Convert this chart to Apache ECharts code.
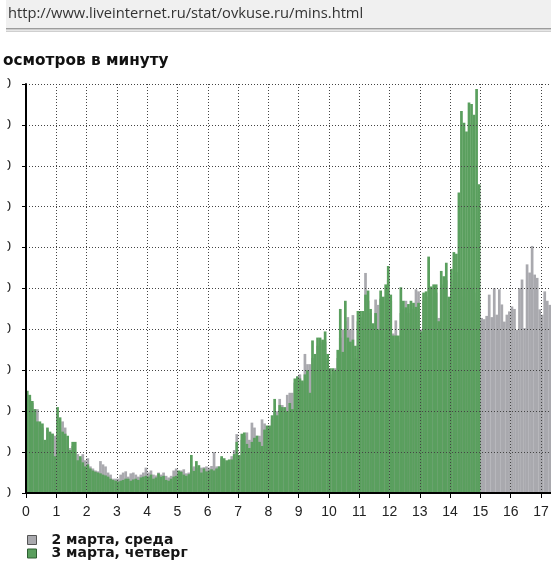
<!DOCTYPE html>
<html>
<head>
<meta charset="utf-8">
<script src="https://cdn.jsdelivr.net/npm/echarts@6/dist/echarts.min.js"></script>
<style>
  html, body { margin: 0; padding: 0; background: #fff; }
  #chart { width: 551px; height: 565px; }
</style>
</head>
<body>
<div id="chart"></div>
<script>
// Page views per minute, averaged over 5-minute slots (12 slots per hour).
const slotsPerHour = 12;
const hourTicks = [0, 1, 2, 3, 4, 5, 6, 7, 8, 9, 10, 11, 12, 13, 14, 15, 16, 17, 18, 19, 20, 21, 22, 23, 24];
const seriesNames = ['2 марта, среда', '3 марта, четверг'];

// 2 марта (shown up to ~17:20)
const march2 = [
  24, 23, 22, 20.5, 20.5, 16, 16, 12, 15.5, 14.5, 14.5, 14,
  14, 16, 17.5, 16, 13, 11, 11.5, 10, 9.5, 8.5, 9.5, 8,
  8.5, 6.5, 6, 5.5, 5.3, 7.8, 7, 6.5, 5, 4.5, 3.5, 3.5,
  3.5, 4.5, 5, 5.3, 4, 4.8, 5, 4.5, 4, 4.5, 5, 6.2,
  5, 5.5, 4.5, 4.3, 5, 4.5, 5, 4.2, 3.8, 4.2, 5.5, 6,
  5, 5.5, 5.8, 4.8, 5, 6, 6.5, 6.2, 6, 6.2, 6.3, 6.5,
  6.2, 6.6, 10, 6.5, 6.5, 8.5, 8, 7.5, 8, 9, 10.5, 14.4,
  9, 13, 14, 14.8, 13, 17.2, 16, 14, 14, 18, 17, 16,
  16, 18, 20, 20, 23, 21.5, 20, 24, 24.5, 24.5, 27, 28.5,
  29, 27, 34, 31.5, 31.5, 33, 30, 36, 36.5, 37, 37, 33,
  29, 28, 30.5, 33, 38, 40, 42, 43, 40, 43.5, 33, 42,
  43, 43, 53.8, 47, 44, 40, 47.3, 46, 47.5, 38, 48, 52,
  47, 39, 42.2, 37, 44, 45, 47, 44, 45, 45, 49.8, 49.3,
  40, 47, 47, 48, 48, 50, 49, 42.8, 50, 51, 52, 47,
  50, 52, 54, 52, 50, 48, 50, 52, 50, 49, 47, 46,
  42.8, 42.5, 43.3, 48.5, 43, 50.1, 43.6, 49.8, 46.1, 41.9, 43.6, 44.4,
  45.6, 45, 39.9, 50.1, 52.2, 40.3, 55.9, 53.9, 60.4, 53.4, 52.6, 44.9,
  43.6, 49.3, 47, 46
];

// 3 марта (until ~15:00)
const march3 = [
  25, 24, 22.5, 20.5, 17.5, 17.5, 17, 13, 16, 15, 14.5, 9,
  21, 18.5, 15, 14.5, 14, 10.5, 12.5, 12.5, 8, 9, 7.5, 6.5,
  7, 6, 5.5, 5.2, 5, 4.8, 4.5, 4.3, 4, 3.5, 3.2, 3,
  2.8, 3, 3.2, 3.5, 3.5, 3, 3.3, 3.5, 3.2, 3.8, 4, 4.2,
  4, 4.5, 3.5, 3.8, 4.8, 4, 4.2, 3.2, 3, 3.5, 4, 4.2,
  5.5, 5.2, 4.5, 4.2, 4.6, 9.3, 5.4, 7.8, 6.8, 5, 6, 5.3,
  5.5, 5.8, 5.5, 6, 6.5, 9, 8.5, 8, 8.2, 8.2, 9.5, 12.5,
  9.3, 14.5, 14.8, 12, 11, 12.5, 13.5, 14, 12.5, 11.5, 15.5, 16.5,
  16.5, 19, 23, 19, 21.5, 21, 21, 20, 22, 20.5, 28, 28.5,
  28, 27.5, 29, 30, 24.5, 37.3, 34, 38, 38, 37.5, 39.5, 34,
  30.5, 30.5, 30, 35, 45, 34.5, 47, 38, 37, 37.5, 36, 44.5,
  44.5, 44.5, 48.5, 49.5, 45, 41.5, 44, 40, 49.5, 48, 51, 55.5,
  48.5, 38.5, 38.5, 38.5, 50.3, 47, 45.4, 46.2, 47, 46.5, 45.5, 46.5,
  39.5, 49, 49.3, 57.8, 50.5, 51, 51, 42, 54.3, 53, 56.3, 48,
  54.8, 58.9, 58.5, 73.5, 93.4, 90.5, 88.4, 95.5, 95.1, 92.5, 98.8, 75.5
];

// Place each slot at the middle of its 5-minute interval on the hour axis.
function toPoints(values) {
  return values.map((v, i) => [(i + 0.5) / slotsPerHour, v]);
}

const GREEN = '#5a9f5e';
const GRAY = '#a9a9ae';
const DOTS = { color: '#444', width: 1, type: [1, 2] };

const chart = echarts.init(document.getElementById('chart'), null, { renderer: 'canvas' });

chart.setOption({
  animation: false,
  backgroundColor: '#fff',
  title: {
    text: 'осмотров в минуту',
    left: 3,
    top: 54,
    padding: 0,
    textStyle: { fontFamily: 'DejaVu Sans', fontWeight: 'bold', fontSize: 15.3, color: '#111' }
  },
  legend: {
    orient: 'vertical',
    left: 27,
    top: 533,
    width: 220,
    height: 60,
    padding: 0,
    itemWidth: 9,
    itemHeight: 9,
    itemGap: -0.5,
    icon: 'rect',
    selectedMode: false,
    textStyle: {
      fontFamily: 'DejaVu Sans', fontWeight: 'bold', fontSize: 14, color: '#151515',
      lineHeight: 9, padding: [0, 0, 0, 10]
    },
    data: [
      { name: seriesNames[0], itemStyle: { color: GRAY, borderColor: '#555', borderWidth: 1 } },
      { name: seriesNames[1], itemStyle: { color: GREEN, borderColor: '#2f5f33', borderWidth: 1 } }
    ]
  },
  grid: { left: 26, top: 84, width: 727, height: 409, containLabel: false, outerBoundsMode: 'none' },
  xAxis: {
    type: 'value',
    min: 0,
    max: 24,
    interval: 1,
    z: 5,
    axisLine: { show: true, onZero: false, lineStyle: { color: '#000', width: 2 } },
    axisTick: { show: true, length: 5, lineStyle: { color: '#000', width: 1 } },
    axisLabel: {
      margin: 12,
      fontFamily: 'Liberation Sans', fontSize: 14, color: '#222',
      formatter: (v) => String(hourTicks[v])
    },
    splitLine: { show: true, lineStyle: DOTS }
  },
  yAxis: {
    type: 'value',
    min: 0,
    max: 100,
    interval: 10,
    z: 5,
    axisLine: { show: true, lineStyle: { color: '#000', width: 2 } },
    axisTick: { show: true, length: 4, lineStyle: { color: '#000', width: 1 } },
    axisLabel: { margin: 15, fontFamily: 'Liberation Sans', fontSize: 14, color: '#222' },
    splitLine: { show: true, lineStyle: DOTS }
  },
  graphic: [
    // address bar
    { type: 'rect', z: 10, shape: { x: 6, y: 0, width: 545, height: 28 }, style: { fill: '#f0f0f0' } },
    { type: 'rect', z: 10, shape: { x: 6, y: 28, width: 545, height: 1.5 }, style: { fill: '#9c9c9c' } },
    { type: 'rect', z: 10, shape: { x: 6, y: 30.5, width: 545, height: 1.5 }, style: { fill: '#cfcfcf' } },
    {
      type: 'text', z: 11, x: 8, y: 14,
      style: {
        text: 'http://www.liveinternet.ru/stat/ovkuse.ru/mins.html',
        font: '14.7px "Open Sans"', fill: '#333', verticalAlign: 'middle'
      }
    },
    // left margin covering the tick values
    { type: 'rect', z: 100, shape: { x: 0, y: 70, width: 7.5, height: 440 }, style: { fill: '#fff' } }
  ],
  series: [
    {
      name: seriesNames[0],
      type: 'bar',
      data: toPoints(march2),
      barWidth: 2.7,
      barGap: '-100%',
      itemStyle: { color: GRAY },
      emphasis: { disabled: true },
      z: 2
    },
    {
      name: seriesNames[1],
      type: 'bar',
      data: toPoints(march3),
      barWidth: 2.7,
      barGap: '-100%',
      itemStyle: { color: GREEN },
      emphasis: { disabled: true },
      z: 3
    }
  ]
});
</script>
</body>
</html>
